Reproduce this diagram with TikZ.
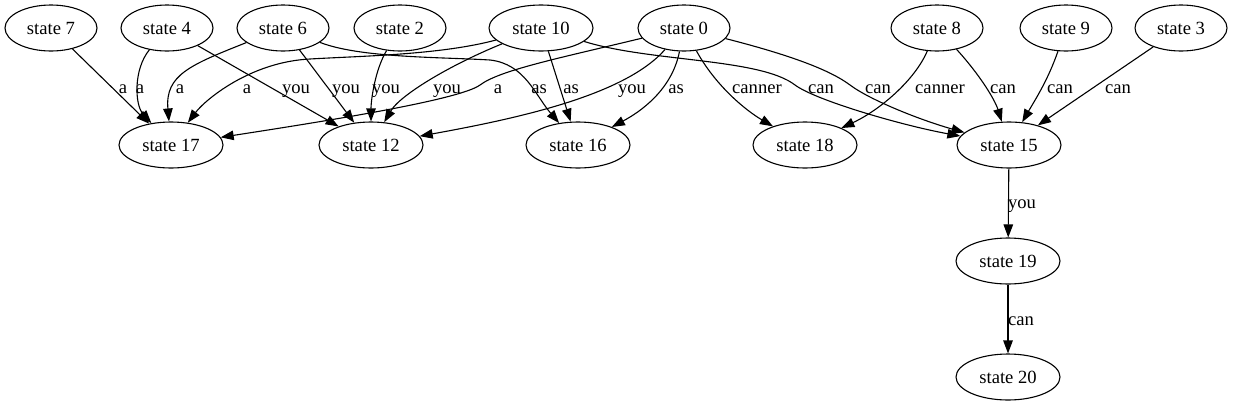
\documentclass[tikz,border=0pt]{standalone}
\usepackage{fontspec}
\setmainfont{Liberation Serif}
\usetikzlibrary{shapes.geometric,arrows.meta}
\begin{document}
\begin{tikzpicture}[x=1pt,y=-1pt,
  st/.style={ellipse,draw,line width=1.1pt,minimum width=92pt,minimum height=46pt,inner sep=0pt,font=\fontsize{18.6}{22}\selectfont},
  stw/.style={st,minimum width=104pt},
  lab/.style={anchor=base,inner sep=0pt,font=\fontsize{18.6}{22}\selectfont},
  edge/.style={draw,line width=1.1pt,-{Triangle[length=13pt,width=9.5pt]}}]
\fill[white] (0,0) rectangle (1233,407);
\useasboundingbox (0,0) rectangle (1233,407);
% top row
\node[st]  (s7)  at (51,28)   {state 7};
\node[st]  (s4)  at (167,28)  {state 4};
\node[st]  (s6)  at (283,28)  {state 6};
\node[st]  (s2)  at (400,28)  {state 2};
\node[stw] (s10) at (541,28)  {state 10};
\node[st]  (s0)  at (684,28)  {state 0};
\node[st]  (s8)  at (937,28)  {state 8};
\node[st]  (s9)  at (1066,28) {state 9};
\node[st]  (s3)  at (1181,28) {state 3};
% second row
\node[stw] (s17) at (171,145)  {state 17};
\node[stw] (s12) at (371,145)  {state 12};
\node[stw] (s16) at (578,145)  {state 16};
\node[stw] (s18) at (805,145)  {state 18};
\node[stw] (s15) at (1009,145) {state 15};
\node[stw] (s19) at (1008,261) {state 19};
\node[stw] (s20) at (1008,377) {state 20};
% edges
\path[edge] (s7) -- (s17);
\path[edge] (s4) .. controls (133,70) and (135,105) .. (s17);
\path[edge] (s6) .. controls (190,65) and (165,75) .. (s17);
\path[edge] (s10) .. controls (440,55) and (360,56) .. (310,59) .. controls (250,62) and (205,100) .. (s17);
\path[edge] (s4) -- (s12);
\path[edge] (s6) -- (s12);
\path[edge] (s2) .. controls (375,70) and (371,100) .. (s12);
\path[edge] (s10) .. controls (450,65) and (400,95) .. (s12);
\path[edge] (s0) .. controls (560,58) and (500,70) .. (480,85) .. controls (460,100) and (320,122) .. (s17);
\path[edge] (s0) .. controls (625,95) and (520,118) .. (s12);
\path[edge] (s0) .. controls (672,90) and (640,112) .. (s16);
\path[edge] (s10) -- (s16);
\path[edge] (s6) .. controls (360,58) and (440,57) .. (490,60) .. controls (525,64) and (535,95) .. (s16);
\path[edge] (s0) .. controls (715,85) and (745,110) .. (s18);
\path[edge] (s0) .. controls (790,55) and (830,70) .. (850,85) .. controls (870,100) and (920,120) .. (s15);
\path[edge] (s10) .. controls (650,62) and (760,58) .. (795,85) .. controls (815,100) and (900,125) .. (s15);
\path[edge] (s8) .. controls (915,80) and (880,110) .. (s18);
\path[edge] (s8) .. controls (980,75) and (995,100) .. (s15);
\path[edge] (s9) .. controls (1048,80) and (1035,100) .. (s15);
\path[edge] (s3) -- (s15);
\path[edge] (s15) -- (s19);
\path[edge] (s19) -- (s20);
% labels
\node[lab] (l1)  at (123,93)  {a};
\node[lab] (l2)  at (140,93)  {a};
\node[lab] (l3)  at (180,93)  {a};
\node[lab] (l4)  at (247,93)  {a};
\node[lab] (l5)  at (296,93)  {you};
\node[lab] (l6)  at (346,93)  {you};
\node[lab] (l7)  at (386,93)  {you};
\node[lab] (l8)  at (447,93)  {you};
\node[lab] (l9)  at (498,93)  {a};
\node[lab] (l10) at (539,93)  {as};
\node[lab] (l11) at (571,93)  {as};
\node[lab] (l12) at (632,93)  {you};
\node[lab] (l13) at (676,93)  {as};
\node[lab] (l14) at (757,93)  {canner};
\node[lab] (l15) at (821,93)  {can};
\node[lab] (l16) at (878,93)  {can};
\node[lab] (l17) at (940,93)  {canner};
\node[lab] (l18) at (1003,93) {can};
\node[lab] (l19) at (1060,93) {can};
\node[lab] (l20) at (1118,93) {can};
\node[lab] (l21) at (1022,208) {you};
\node[lab] (l22) at (1021,325) {can};
\end{tikzpicture}
\end{document}
